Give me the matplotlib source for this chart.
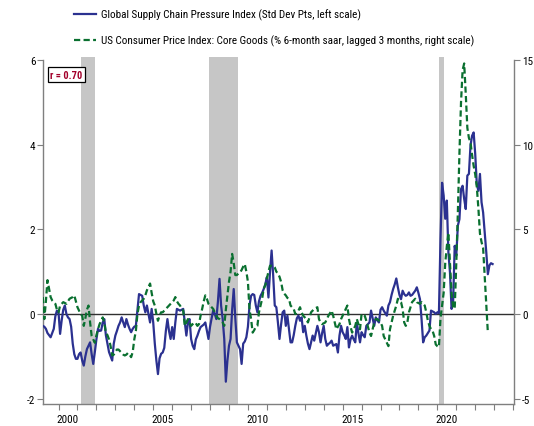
import numpy as np
import matplotlib.pyplot as plt
from matplotlib.lines import Line2D
from matplotlib import font_manager

# Global Supply Chain Pressure Index, monthly Mar 1999 - Dec 2022 (std dev)
gscpi = [
    -0.28, -0.30, -0.35, -0.45, -0.50, -0.55, -0.45, -0.35, -0.05, 0.08,              # 1999
    0.04, -0.47, -0.15, 0.10, 0.20, 0.00, -0.08, -0.12, -0.30, -0.70, -0.95, -1.06,   # 2000
    -1.06, -0.95, -0.91, -1.10, -1.22, -1.00, -0.83, -0.75, -0.67, -0.95, -1.18, -0.90,  # 2001
    -0.60, -0.35, -0.40, -0.39, -0.20, -0.12, -0.50, -0.70, -0.90, -1.00, -1.10, -0.70,  # 2002
    -0.51, -0.40, -0.28, -0.20, -0.08, -0.20, -0.31, -0.12, -0.25, -0.35, -0.43, -0.35,  # 2003
    -0.30, -0.28, 0.10, 0.47, 0.45, 0.43, 0.20, 0.04, 0.20, 0.00, -0.20, 0.12,        # 2004
    -0.20, -0.70, -1.10, -1.42, -1.05, -0.94, -0.91, -0.80, -0.40, -0.12, -0.40, -0.59,  # 2005
    -0.31, -0.59, -0.20, 0.12, 0.10, 0.08, 0.10, 0.12, -0.20, -0.51, -0.20, -0.12,    # 2006
    -0.59, -0.75, -0.83, -0.60, -0.51, -0.40, -0.31, -0.28, -0.25, -0.20, -0.40, -0.59,  # 2007
    -0.30, -0.10, 0.08, 0.00, -0.12, 0.30, 0.83, 0.20, -0.12, -0.59, -1.60, -1.10,    # 2008
    -0.75, -0.59, 0.10, 0.59, -0.10, -0.67, -0.75, -0.83, -1.18, -0.70, -0.65, -0.55,  # 2009
    -0.30, 0.20, 0.43, 0.47, 0.45, 0.20, 0.04, 0.30, 0.43, 0.50, 0.59, 0.70,          # 2010
    0.87, 0.39, 1.00, 1.50, 0.91, 0.20, 0.16, -0.20, -0.59, -0.25, 0.04, 0.08,        # 2011
    -0.28, -0.04, -0.35, -0.67, -0.67, -0.50, -0.28, -0.10, -0.04, -0.16, -0.08, -0.43,  # 2012
    -0.28, -0.51, -0.70, -0.83, -0.67, -0.51, -0.63, -0.45, -0.28, -0.43, -0.67, -0.45,  # 2013
    -0.28, -0.59, -0.75, -0.71, -0.68, -0.63, -0.75, -0.73, -0.71, -0.91, -0.51, -0.28,  # 2014
    -0.43, -0.50, -0.59, -0.31, -0.79, -0.60, -0.51, -0.60, -0.67, -0.20, -0.45, -0.67,  # 2015
    -0.43, -0.50, -0.55, -0.28, -0.24, -0.20, 0.08, -0.10, -0.28, -0.08, -0.15, -0.20,  # 2016
    0.10, 0.16, 0.08, 0.02, -0.04, 0.20, 0.28, 0.45, 0.59, 0.70, 0.84, 0.63,          # 2017
    0.45, 0.35, 0.55, 0.47, 0.43, 0.45, 0.51, 0.43, 0.45, 0.50, 0.55, 0.63,           # 2018
    0.50, 0.35, -0.12, -0.67, -0.55, -0.51, -0.45, -0.39, 0.08, 0.06, 0.04, 0.00,     # 2019
    0.04, 0.02, 1.78, 3.10, 2.80, 2.25, 2.68, 1.46, 0.98, 0.12, 0.28, 1.61,           # 2020
    1.38, 2.09, 2.24, 2.95, 3.03, 2.72, 2.48, 3.27, 3.31, 3.98, 4.21, 4.29,           # 2021
    3.78, 3.07, 2.91, 3.31, 2.64, 2.40, 1.93, 1.46, 0.94, 1.15, 1.20, 1.18,           # 2022
]

# US CPI core goods, % 6-month saar, lagged 3 months, Mar 1999 - Sep 2022
core_goods = [
    1.0, -0.3, 0.75, 2.0, 1.5, 1.0, 0.8, 0.7, 0.6, 0.25,                  # 1999
    0.1, 0.5, 0.6, 0.7, 0.65, 0.6, 0.75, 0.9, 0.95, 1.0, 1.1, 0.75,       # 2000
    0.4, 0.2, 0.0, -0.1, -0.7, -0.25, 0.25, 0.5, -0.5, -1.3, -1.5, -1.7,  # 2001
    -1.25, -0.9, -0.6, -0.4, -0.2, -0.5, -1.1, -1.25, -1.5, -1.9, -2.45, -2.4,  # 2002
    -2.25, -2.1, -2.1, -2.2, -2.3, -2.4, -2.45, -2.4, -2.3, -2.4, -2.55, -2.25,  # 2003
    -1.5, -1.0, 0.0, 0.5, 0.7, 0.8, 0.9, 1.1, 1.4, 1.6, 1.8, 1.25,        # 2004
    0.75, 0.5, 0.0, -0.4, -0.1, 0.1, 0.1, 0.2, 0.3, 0.4, 0.5, 0.6,        # 2005
    0.7, 0.8, 1.0, 0.75, 0.6, 0.5, 0.3, 0.2, -0.7, -0.5, -0.3, -0.5,      # 2006
    -0.7, -0.6, -0.5, -0.55, -0.7, -0.6, -0.1, 0.3, 0.75, 1.1, 0.9, 0.6,  # 2007
    0.5, 0.4, 0.3, 0.1, -0.1, -0.25, -0.3, -0.4, -0.5, -0.7, 0.25, 1.1,   # 2008
    1.9, 2.5, 3.55, 3.0, 2.3, 2.3, 2.4, 2.45, 2.6, 2.8, 2.95, 2.5,        # 2009
    1.9, 0.25, -0.3, -1.1, -0.95, -0.75, -0.7, 0.1, 0.5, 0.9, 1.5, 1.7,   # 2010
    2.1, 2.5, 2.85, 2.85, 2.85, 2.75, 2.5, 2.4, 2.2, 1.9, 1.4, 1.2,       # 2011
    1.1, 0.95, 0.9, 0.5, 0.4, 0.3, 0.0, 0.1, 0.2, 0.4, 0.1, -0.1,         # 2012
    -0.2, -0.3, -0.5, -0.2, 0.1, 0.2, 0.3, 0.35, 0.4, -0.3, -0.5, -0.6,   # 2013
    -0.55, -0.5, -0.3, -0.1, 0.05, 0.2, -0.1, -0.5, -0.9, -0.75, -0.6, -0.3,  # 2014
    -0.1, 0.1, 0.3, 0.5, -0.3, -0.75, -1.1, -0.9, -0.7, -0.3, -0.6, -0.9,  # 2015
    0.0, -0.05, -0.1, -0.4, -0.75, -1.1, -1.3, -0.9, -0.5, -0.3, -0.3, -0.4,  # 2016
    -0.5, -0.7, -1.3, -1.5, -1.7, -1.9, -0.9, -0.5, -0.1, 0.2, 0.5, 0.9,  # 2017
    0.8, 0.7, 0.3, -0.5, -0.7, -0.5, 0.1, 0.4, 0.7, 0.8, 0.9, 0.7,        # 2018
    0.65, 0.6, 0.7, 0.6, 0.5, 0.1, -0.4, -0.7, -0.9, -1.0, -1.3, -1.8,    # 2019
    -1.9, -1.95, -0.25, 0.5, 1.25, 3.0, 4.0, 4.8, 3.0, 1.25, 0.4, 0.3,    # 2020
    3.0, 6.0, 9.5, 12.5, 14.4, 14.8, 13.0, 11.0, 10.4, 10.15, 9.4, 8.75,  # 2021
    8.25, 7.5, 6.25, 4.75, 4.25, 3.9, 2.25, 0.6, -1.1,                    # 2022
]

recessions = [(2001.17, 2001.9), (2007.95, 2009.5), (2020.1, 2020.33)]

year_labels = ['2000', '2005', '2010', '2015', '2020']
left_ticks = [-2, 0, 2, 4, 6]
right_ticks = [-5, 0, 5, 10, 15]

label_gscpi = 'Global Supply Chain Pressure Index (Std Dev Pts, left scale)'
label_core = 'US Consumer Price Index: Core Goods (% 6-month saar, lagged 3 months, right scale)'

BLUE = '#2b3190'
GREEN = '#0a7030'
SPINE = '#7f7f7f'

# the original uses a narrow font; take one if the machine has it
fonts = font_manager.fontManager.ttflist
names = {f.name for f in fonts}
condensed = sorted({f.name for f in fonts if f.stretch in ('condensed', 'semi-condensed')})
narrow = [n for n in ['Liberation Sans Narrow', 'Arial Narrow', 'Roboto Condensed',
                      'Open Sans Condensed', 'DejaVu Sans Condensed'] if n in names]
if narrow:
    plt.rcParams['font.family'] = [narrow[0], 'DejaVu Sans']
    fs_leg, fs_tick, fs_r = 8.0, 8, 7.5
elif condensed:
    plt.rcParams['font.family'] = [condensed[0], 'DejaVu Sans']
    plt.rcParams['font.stretch'] = 'condensed'
    fs_leg, fs_tick, fs_r = 7.2, 7.5, 7
else:
    plt.rcParams['font.family'] = ['Liberation Sans', 'DejaVu Sans']
    fs_leg, fs_tick, fs_r = 6.8, 7.5, 7

# monthly positions, starting March 1999
t_gscpi = 1999 + (2 + np.arange(len(gscpi))) / 12.0
t_core = 1999 + (2 + np.arange(len(core_goods))) / 12.0

fig = plt.figure(figsize=(5.34, 4.27), dpi=100)
ax = fig.add_axes([0.0805, 0.0522, 0.8825, 0.8127])
ax2 = ax.twinx()

for start, end in recessions:
    ax.axvspan(start, end, color='#c6c6c6', lw=0, zorder=0)

ax.axhline(0, color='#303030', lw=1.0, zorder=1)
ax.plot(t_gscpi, gscpi, color=BLUE, lw=1.6, zorder=3)
ax2.plot(t_core, core_goods, color=GREEN, lw=1.6, dashes=(2.8, 1.5))

ax.set_xlim(1999.18, 2024.06)
ax.set_ylim(-2.12, 6.08)
ax2.set_ylim(-5.3, 15.2)

ax.set_yticks(left_ticks)
ax.set_yticklabels([str(v) for v in left_ticks])
ax2.set_yticks(right_ticks)
ax2.set_yticklabels([str(v) for v in right_ticks])

# year ticks at each January, labels centred on the year
ax.set_xticks(np.arange(2000, 2025))
ax.set_xticklabels([])
ax.set_xticks([int(y) + 0.5 for y in year_labels], minor=True)
ax.set_xticklabels(year_labels, minor=True, fontsize=fs_tick)
ax.tick_params(axis='x', which='major', direction='out', length=4.5, width=0.8, color=SPINE)
ax.tick_params(axis='x', which='minor', length=0, pad=7.5)
ax.tick_params(axis='y', direction='out', length=4, width=0.8, color=SPINE, labelsize=fs_tick, pad=1.5)
ax2.tick_params(axis='y', direction='out', length=4, width=0.8, color=SPINE, labelsize=fs_tick, pad=1.5)

for a in (ax, ax2):
    a.spines['top'].set_visible(False)
    for s in ('left', 'right', 'bottom'):
        a.spines[s].set_color(SPINE)
        a.spines[s].set_linewidth(1.0)
ax.spines['right'].set_visible(False)
ax2.spines['left'].set_visible(False)
ax2.spines['bottom'].set_visible(False)
ax.spines['left'].set_bounds(-2.12, 6)
ax2.spines['right'].set_bounds(-5.3, 15)

ax.text(0.0495, 0.948, 'r = 0.70', transform=ax.transAxes, ha='center', va='center',
        color='#a3002b', fontsize=fs_r, fontweight='bold', zorder=5,
        bbox=dict(boxstyle='square,pad=0.25', facecolor='white', edgecolor='black', lw=0.9))

handles = [Line2D([], [], color=BLUE, lw=1.6),
           Line2D([], [], color=GREEN, lw=1.6, dashes=(2.8, 1.5))]
fig.legend(handles, [label_gscpi, label_core], loc='upper left',
           bbox_to_anchor=(0.138, 0.977), frameon=False, fontsize=fs_leg,
           handlelength=2.0, handletextpad=0.5, labelspacing=1.3,
           borderpad=0, borderaxespad=0)

fig.savefig('out.png', dpi=100)
